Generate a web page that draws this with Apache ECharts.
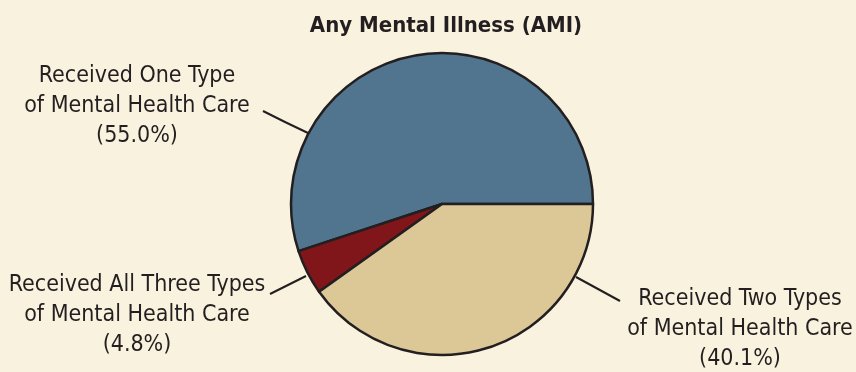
<!DOCTYPE html>
<html><head><meta charset="utf-8">
<script src="https://cdn.jsdelivr.net/npm/echarts@6/dist/echarts.min.js"></script>
<style>html,body{margin:0;padding:0;background:#f9f2df}#c{width:856px;height:372px}</style>
</head><body><div id="c"></div>
<script>
const title = 'Any Mental Illness (AMI)';
const categories = ['Received One Type\nof Mental Health Care', 'Received All Three Types\nof Mental Health Care', 'Received Two Types\nof Mental Health Care'];
const values = [55.0, 4.8, 40.1];
const colors = ['#52758f', '#80161a', '#dcc896'];

const FONT = '"DejaVu Sans Condensed", "Liberation Sans Narrow", sans-serif';
// label anchor positions and leader lines (layout only)
const labelPos = [
  {x: 137, y: 106, line: [[308, 133], [285, 122], [263, 111]]},
  {x: 137, y: 315, line: [[306, 276], [288, 285], [270, 294]]},
  {x: 740, y: 329, line: [[576, 277], [598, 289], [620, 301]]}
];

const chart = echarts.init(document.getElementById('c'), null, {renderer: 'canvas'});
chart.setOption({
  backgroundColor: '#f9f2df',
  title: {
    text: title, left: 441, top: 10, textAlign: 'center',
    textStyle: {fontFamily: FONT, fontWeight: 'bold', fontSize: 22, color: '#231f20'}
  },
  series: [{
    type: 'pie',
    center: [442, 204],
    radius: 151,
    startAngle: 0,
    clockwise: false,
    animation: false,
    data: categories.map((c, i) => ({name: c, value: values[i], itemStyle: {color: colors[i]}})),
    itemStyle: {borderColor: '#231f20', borderWidth: 2.5},
    label: {
      show: true,
      formatter: p => p.name + '\n(' + p.value.toFixed(1) + '%)',
      fontFamily: FONT, fontSize: 23, lineHeight: 30, color: '#231f20', align: 'center',
      overflow: 'none'
    },
    labelLine: {show: true, lineStyle: {color: '#231f20', width: 2}},
    labelLayout: function (params) {
      const p = labelPos[params.dataIndex];
      return {x: p.x, y: p.y, align: 'center', verticalAlign: 'middle', labelLinePoints: p.line};
    },
    emphasis: {disabled: true}
  }]
});
</script></body></html>
